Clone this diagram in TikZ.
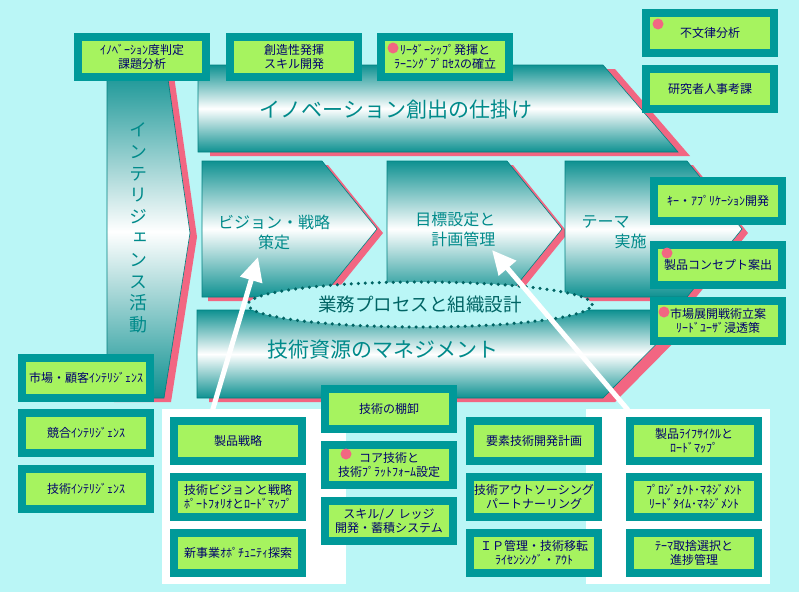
\documentclass[tikz,border=0pt]{standalone}
\usepackage{fontspec}
\newfontfamily\jp{Noto Sans CJK JP}
\newfontfamily\jpv[RawFeature=+vert]{Noto Sans CJK JP}
\usepackage{tikz}
\usetikzlibrary{arrows.meta,shapes.geometric,calc}
\usepackage{xcolor}
\definecolor{bgcyan}{RGB}{186,246,246}
\definecolor{boxframe}{RGB}{0,153,153}
\definecolor{boxleaf}{RGB}{166,243,95}
\definecolor{boxtext}{RGB}{0,0,110}
\definecolor{bandteal}{RGB}{14,145,145}
\definecolor{bandedge}{RGB}{0,128,128}
\definecolor{labelteal}{RGB}{0,138,138}
\definecolor{dotteal}{RGB}{0,100,100}
\definecolor{shadowpink}{RGB}{242,102,130}

\begin{document}
\begin{tikzpicture}[x=1pt,y=-1pt,
  kbox/.style={draw=boxframe,line width=8pt,fill=boxleaf,minimum width=128pt,minimum height=40pt,
               inner sep=0pt,align=center,text=boxtext,font=\jp\fontsize{12}{14}\selectfont},
  kdot/.style={circle,fill=shadowpink,inner sep=0pt,minimum size=11pt},
  band/.style={top color=bandteal,bottom color=bandteal,middle color=white,draw=bandedge,line width=0.6pt},
  bshadow/.style={fill=shadowpink},
  blabel/.style={text=labelteal,font=\jp\fontsize{21}{24}\selectfont},
  clabel/.style={text=labelteal,font=\jp\fontsize{16}{20}\selectfont}]
 \fill[bgcyan] (0,0) rectangle (799,592);
 \useasboundingbox (0,0) rectangle (799,592);

 % bands
 \fill[bshadow,shift={(12,4)}] (198,65) -- (603,65) -- (678,152) -- (198,152) -- cycle;
 \draw[band] (198,65) -- (603,65) -- (678,152) -- (198,152) -- cycle;
 \fill[bshadow,shift={(7,4)}] (107,65) -- (166,65) -- (190,233) -- (164,398) -- (107,398) -- cycle;
 \draw[band] (107,65) -- (166,65) -- (190,233) -- (164,398) -- (107,398) -- cycle;
 \fill[bshadow,shift={(12,4)}] (197,310) -- (690,310) -- (603,398) -- (197,398) -- cycle;
 \draw[band] (197,310) -- (690,310) -- (603,398) -- (197,398) -- cycle;

 % chevrons
 \foreach \l/\r in {202/322,387/507,565/687}{
   \fill[bshadow,shift={(6,4)}] (\l,161) -- (\r,161) -- ({\r+55},229) -- (\r,297) -- (\l,297) -- cycle;
   \draw[band] (\l,161) -- (\r,161) -- ({\r+55},229) -- (\r,297) -- (\l,297) -- cycle;
 }

 \node[blabel] (innov) at (396,110) {イノベーション創出の仕掛け};
 \node[blabel] (techres) at (383,350) {技術資源のマネジメント};
 \node[text=labelteal,align=center,font=\jpv\fontsize{18}{21.6}\selectfont] (intel) at (138,228)
   {イ\\ン\\テ\\リ\\ジ\\ェ\\ン\\ス\\活\\動};
 \node[clabel,align=center] (vision) at (274,232) {ビジョン・戦略\\策定};
 \node[clabel,align=right,anchor=east] (target) at (499,229) {目標設定と\\計画管理};
 \node[clabel,align=left,anchor=west] (theme) at (578,232) {テーマ\\\hspace*{33pt}実施};

 \node[ellipse,fill=bgcyan,draw=dotteal,line width=3.5pt,dash pattern=on 0pt off 7pt,line cap=round,
       minimum width=344pt,minimum height=45pt,inner sep=0pt,text=dotteal,
       font=\jp\fontsize{18.5}{22}\selectfont] (bizproc) at (420,304.5) {業務プロセスと組織設計};

 % white panels
 \fill[white] (162,409) rectangle (346,584);
 \fill[white] (586,409) rectangle (770,584);

 \coordinate (tail1) at (212,412);
 \coordinate (tip1) at (258,257);
 \coordinate (tail2) at (628,410);
 \coordinate (tip2) at (492,250);
 \draw[white,line width=5pt,-{Triangle[length=24pt,width=22pt]}] (tail1) -- (tip1);
 \draw[white,line width=5pt,-{Triangle[length=24pt,width=22pt]}] (tail2) -- (tip2);

 % boxes
 \node[kbox] (b1) at (142,57) {ｲﾉﾍﾞｰｼｮﾝ度判定\\課題分析};
 \node[kbox] (b2) at (294,57) {創造性発揮\\スキル開発};
 \node[kbox] (b3) at (445,57) {ﾘｰﾀﾞｰｼｯﾌﾟ発揮と\\ﾗｰﾆﾝｸﾞﾌﾟﾛｾｽの確立};
 \node[kbox] (b4) at (710,33) {不文律分析};
 \node[kbox] (b5) at (710,89) {研究者人事考課};
 \node[kbox] (b6) at (718,201) {ｷｰ・ｱﾌﾟﾘｹｰｼｮﾝ開発};
 \node[kbox] (b7) at (718,265) {製品コンセプト案出};
 \node[kbox] (b8) at (718,321) {市場展開戦術立案\\ﾘｰﾄﾞﾕｰｻﾞ浸透策};
 \node[kbox] (b9) at (86,378) {市場・顧客ｲﾝﾃﾘｼﾞｪﾝｽ};
 \node[kbox] (b10) at (86,433) {競合ｲﾝﾃﾘｼﾞｪﾝｽ};
 \node[kbox] (b11) at (86,489) {技術ｲﾝﾃﾘｼﾞｪﾝｽ};
 \node[kbox] (b12) at (238,441) {製品戦略};
 \node[kbox] (b13) at (238,497) {技術ビジョンと戦略\\ﾎﾟｰﾄﾌｫﾘｵとﾛｰﾄﾞﾏｯﾌﾟ};
 \node[kbox] (b14) at (238,553) {新事業ｵﾎﾟﾁｭﾆﾃｨ探索};
 \node[kbox] (b15) at (389,409) {技術の棚卸};
 \node[kbox] (b16) at (389,465) {コア技術と\\技術ﾌﾟﾗｯﾄﾌｫｰﾑ設定};
 \node[kbox] (b17) at (389,521) {スキル/ノ レッジ\\開発・蓄積システム};
 \node[kbox] (b18) at (534,441) {要素技術開発計画};
 \node[kbox] (b19) at (534,497) {技術アウトソーシング\\パートナーリング};
 \node[kbox] (b20) at (534,553) {ＩＰ管理・技術移転\\ﾗｲｾﾝｼﾝｸﾞ・ｱｳﾄ};
 \node[kbox] (b21) at (694,441) {製品ﾗｲﾌｻｲｸﾙと\\ﾛｰﾄﾞﾏｯﾌﾟ};
 \node[kbox] (b22) at (694,497) {ﾌﾟﾛｼﾞｪｸﾄ･ﾏﾈｼﾞﾒﾝﾄ\\ﾘｰﾄﾞﾀｲﾑ･ﾏﾈｼﾞﾒﾝﾄ};
 \node[kbox] (b23) at (694,553) {ﾃｰﾏ取捨選択と\\進捗管理};

 % marks
 \node[kdot] (d3) at ($(b3.north west)+(16,15)$) {};
 \node[kdot] (d4) at ($(b4.north west)+(16,15)$) {};
 \node[kdot] (d7) at ($(b7.north west)+(17,12)$) {};
 \node[kdot] (d8) at ($(b8.north west)+(14,15)$) {};
 \node[kdot] (d16) at ($(b16.north west)+(25,13)$) {};
\end{tikzpicture}
\end{document}
